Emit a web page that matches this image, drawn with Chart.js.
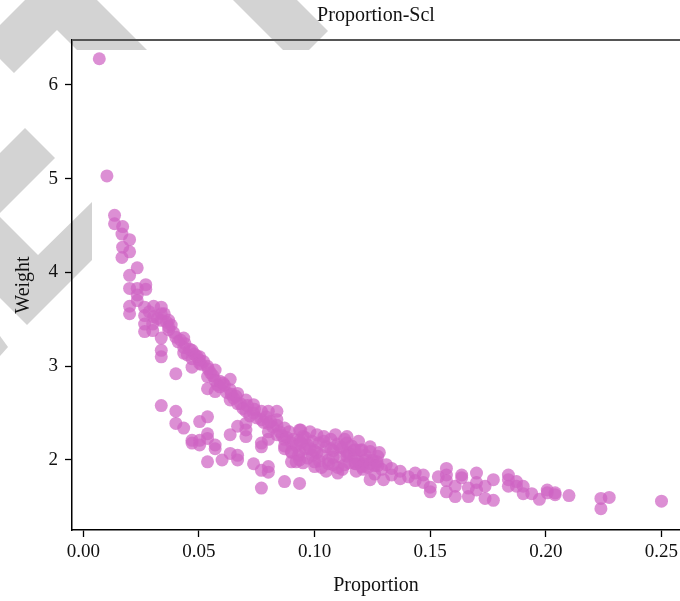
<!DOCTYPE html>
<html>
<head>
<meta charset="utf-8">
<script src="https://cdn.jsdelivr.net/npm/chart.js@4.4.0/dist/chart.umd.min.js"></script>
<style>
html,body{margin:0;padding:0;background:#fff;overflow:hidden;}
canvas{display:block;}
</style>
</head>
<body>
<canvas id="c" width="680" height="601"></canvas>
<script>
const chartTitle = 'Proportion-Scl';
const xTitle = 'Proportion';
const yTitle = 'Weight';
const xTicks = [0, 0.05, 0.10, 0.15, 0.20, 0.25];
const yTicks = [2, 3, 4, 5, 6];

const proportion = [
0.0069,0.0102,0.0135,0.0135,0.017,0.0167,0.020,0.017,0.020,0.0167,0.0233,0.020,0.020,0.0233,0.027,0.027,0.0233,0.0233,
0.020,0.020,0.0265,0.0265,0.0265,0.0265,0.0304,0.0304,0.030,0.030,0.0337,0.0337,0.0337,0.0337,0.0337,0.0337,0.0337,
0.035,0.036,0.0369,0.0369,0.0369,0.038,0.039,0.040,0.040,0.040,0.040,0.042,0.0434,0.0434,0.0434,0.0434,0.044,0.045,
0.047,0.047,0.047,0.047,0.047,0.048,0.050,0.0503,0.0503,0.0503,0.0503,0.0503,0.052,0.0537,0.0537,0.0537,0.0537,0.0537,
0.0537,0.0537,0.055,0.056,0.057,0.057,0.057,0.057,0.057,0.058,0.059,0.060,0.0604,0.062,0.0635,0.0635,0.0635,0.0635,
0.0635,0.064,0.065,0.0667,0.0667,0.0667,0.0667,0.0667,0.068,0.069,0.0703,0.0703,0.0703,0.0703,0.0703,0.072,0.0736,
0.0736,0.0736,0.075,0.077,0.077,0.077,0.077,0.077,0.077,0.078,0.080,0.080,0.080,0.080,0.080,0.080,0.082,0.0837,0.0837,
0.0837,0.0837,0.085,0.086,0.087,0.087,0.087,0.087,0.088,0.090,0.090,0.090,0.0935,0.0935,0.0935,0.0935,0.0935,
0.089,0.091,0.092,0.093,0.094,0.095,0.096,0.097,0.098,0.099,0.100,0.100,0.101,0.102,0.103,0.103,0.104,0.105,0.106,
0.107,0.108,0.108,0.109,0.110,0.111,0.112,0.113,0.114,0.115,0.116,0.117,0.118,0.119,0.120,0.121,0.122,0.123,0.124,
0.125,0.126,0.127,0.128,0.129,0.131,0.095,0.099,0.105,0.110,0.114,0.118,0.090,0.087,0.092,0.100,0.110,
0.097,0.101,0.104,0.106,0.108,0.112,0.115,0.119,0.122,0.096,0.102,0.107,0.113,0.117,0.121,0.126,0.094,0.098,
0.0285,0.032,0.041,0.046,0.049,0.051,0.054,0.059,0.061,0.066,0.071,0.074,0.079,0.081,
0.111,0.114,0.114,0.1175,0.1175,0.1204,0.1204,0.124,0.124,0.124,0.1273,0.1273,0.1298,0.1333,0.1333,0.137,0.137,
0.1406,0.1435,0.1435,0.147,0.147,0.150,0.150,0.1535,0.157,0.157,0.157,0.157,0.1608,0.1608,0.1636,0.1636,0.1665,
0.1665,0.170,0.170,0.170,0.1737,0.1737,0.1773,0.1773,0.1838,0.1838,0.1838,0.1873,0.1873,0.1902,0.1902,0.1939,
0.1972,0.2006,0.2006,0.204,0.204,0.210,0.2238,0.2238,0.2274,0.250
];
const weight = [
6.28,5.03,4.61,4.52,4.49,4.41,4.35,4.27,4.22,4.16,4.05,3.97,3.83,3.83,3.87,3.82,3.76,3.70,
3.64,3.56,3.63,3.54,3.45,3.37,3.64,3.53,3.45,3.38,3.63,3.56,3.49,3.30,3.17,3.10,2.58,
3.56,3.47,3.49,3.42,3.39,3.44,3.36,3.31,2.92,2.52,2.39,3.28,3.30,3.20,3.14,2.34,3.24,3.12,
3.17,3.08,2.99,2.21,2.18,3.13,3.07,3.10,3.03,2.41,2.21,2.16,3.05,2.46,2.28,2.23,1.98,2.89,
3.00,2.76,2.93,2.90,2.96,2.85,2.73,2.16,2.12,2.80,2.78,2.00,2.82,2.72,2.86,2.75,2.64,2.27,
2.07,2.70,2.66,2.71,2.60,2.36,2.05,2.00,2.60,2.55,2.64,2.52,2.39,2.32,2.25,2.47,2.59,
2.50,1.96,2.45,2.52,2.43,2.18,2.14,1.89,1.70,2.40,2.52,2.39,2.30,2.22,1.93,1.87,2.35,2.52,2.43,
2.37,2.27,2.30,2.26,2.34,2.22,2.15,1.77,2.24,2.18,2.09,1.98,2.32,2.21,2.09,2.00,1.75,
2.30,2.22,2.15,2.05,2.32,2.25,2.12,2.02,2.30,2.20,2.10,1.98,2.27,2.18,2.05,1.92,2.25,2.14,2.00,
2.22,2.10,1.95,2.27,2.17,2.03,1.90,2.22,2.08,1.97,2.15,2.03,1.88,2.20,2.10,1.96,2.05,1.92,2.14,
2.00,1.85,1.98,2.08,1.90,1.95,1.97,2.05,1.88,1.92,2.25,1.96,2.08,2.12,1.98,1.93,1.86,
2.16,2.08,2.20,1.96,2.03,2.13,2.07,1.98,2.00,2.24,1.99,2.12,1.95,2.10,1.90,1.94,2.18,2.12,
3.58,3.51,3.26,3.18,3.11,3.02,2.97,2.84,2.80,2.68,2.58,2.54,2.46,2.41,
2.14,2.04,2.18,2.11,1.96,2.11,1.93,2.09,1.96,1.79,2.04,1.94,1.79,1.91,1.84,1.88,1.80,
1.82,1.86,1.78,1.84,1.76,1.66,1.71,1.82,1.91,1.84,1.78,1.66,1.72,1.61,1.84,1.81,1.70,
1.61,1.86,1.76,1.68,1.72,1.59,1.79,1.57,1.84,1.79,1.72,1.77,1.72,1.72,1.64,1.64,
1.58,1.68,1.65,1.63,1.65,1.62,1.59,1.48,1.60,1.56
];

const points = proportion.map((p, i) => ({x: p, y: weight[i]}));

const FONT = "'Liberation Serif', 'DejaVu Serif', serif";

const watermark = {
  id: 'watermark',
  beforeDraw(chart) {
    const ctx = chart.ctx;
    ctx.save();
    ctx.fillStyle = '#ffffff';
    ctx.fillRect(0, 0, chart.width, chart.height);
    ctx.fillStyle = '#d3d3d3';
    const polys = [
      [[25,0],[97,0],[147,50],[77,50],[57,30],[14,73],[0,59],[0,25]],
      [[233,0],[297,0],[328,31],[309,50],[283,50]],
      [[25,128],[55,158],[0,213],[0,153]],
      [[0,217],[38,255],[92,202],[92,260],[27,325],[0,298]],
      [[0,336],[8,347],[0,356]]
    ];
    polys.forEach(pl => {
      ctx.beginPath();
      pl.forEach((pt, k) => k ? ctx.lineTo(pt[0], pt[1]) : ctx.moveTo(pt[0], pt[1]));
      ctx.closePath();
      ctx.fill();
    });
    ctx.fillStyle = '#ffffff';
    ctx.fillRect(92, 50, chart.width - 92, chart.height - 50);
    ctx.restore();
  },
  afterDraw(chart) {
    const {ctx, chartArea} = chart;
    ctx.save();
    ctx.strokeStyle = '#555555';
    ctx.lineWidth = 2;
    ctx.beginPath();
    ctx.moveTo(chartArea.left, chartArea.top);
    ctx.lineTo(chart.width, chartArea.top);
    ctx.stroke();
    ctx.restore();
  }
};

new Chart(document.getElementById('c'), {
  type: 'scatter',
  data: {
    datasets: [{
      data: points,
      backgroundColor: 'rgba(206,100,196,0.72)',
      borderWidth: 0,
      pointRadius: 6.5,
      pointHoverRadius: 6.5
    }]
  },
  options: {
    responsive: false,
    animation: false,
    devicePixelRatio: 1,
    layout: {autoPadding: false, padding: {left: 0, right: 0, top: 0, bottom: 0}},
    plugins: {
      legend: {display: false},
      tooltip: {enabled: false},
      title: {
        display: true,
        text: chartTitle,
        fullSize: false,
        color: '#111',
        font: {family: FONT, size: 20, weight: 'normal'},
        padding: {top: 4, bottom: 12}
      }
    },
    scales: {
      x: {
        type: 'linear',
        min: -0.0049,
        max: 0.258,
        afterBuildTicks: s => { s.ticks = xTicks.map(v => ({value: v})); },
        afterFit: s => { s.height = 71; s.paddingRight = 0; s.paddingLeft = 0; },
        grid: {display: true, drawOnChartArea: false, drawTicks: true, tickLength: 7, tickColor: '#000', tickWidth: 1.3},
        border: {display: true, color: '#000', width: 1.5},
        ticks: {
          color: '#111',
          padding: 4,
          maxRotation: 0,
          autoSkip: false,
          font: {family: FONT, size: 19},
          callback: v => Number(v).toFixed(2)
        },
        title: {
          display: true,
          text: xTitle,
          color: '#111',
          font: {family: FONT, size: 20},
          padding: {top: 0, bottom: 3}
        }
      },
      y: {
        type: 'linear',
        min: 1.253,
        max: 6.48,
        afterBuildTicks: s => { s.ticks = yTicks.map(v => ({value: v})); },
        afterFit: s => { s.width = 72; },
        grid: {display: true, drawOnChartArea: false, drawTicks: true, tickLength: 7, tickColor: '#000', tickWidth: 1.3},
        border: {display: true, color: '#000', width: 1.5},
        ticks: {
          color: '#111',
          padding: 7,
          autoSkip: false,
          font: {family: FONT, size: 19},
          callback: v => String(v)
        },
        title: {
          display: true,
          text: yTitle,
          color: '#111',
          font: {family: FONT, size: 20},
          padding: {top: 12, bottom: 0}
        }
      }
    }
  },
  plugins: [watermark]
});
</script>
</body>
</html>
